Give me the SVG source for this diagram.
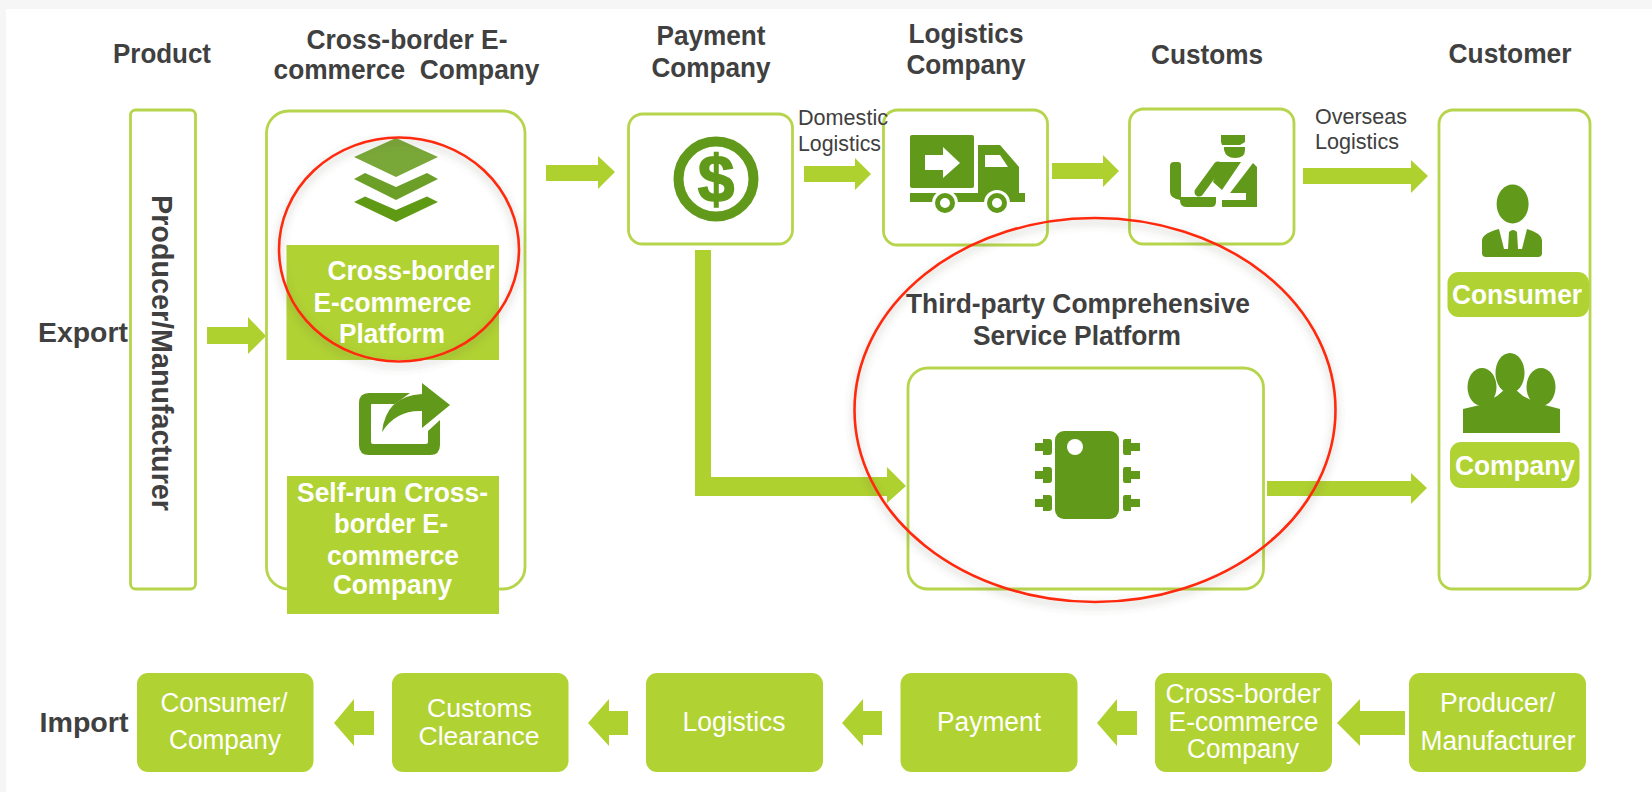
<svg xmlns="http://www.w3.org/2000/svg" width="1652" height="792" viewBox="0 0 1652 792">
<style>
text{font-family:"Liberation Sans",Arial,sans-serif}
.h{font-size:27.500px;font-weight:700;fill:#404040;text-anchor:middle}
.l{font-size:21.500px;fill:#404040}
.w{font-size:27.500px;font-weight:700;fill:#fff;text-anchor:middle}
.b{font-size:27px;fill:#fff;text-anchor:middle}
.box{fill:#fff;stroke:#b6d54c;stroke-width:2.800}
.fill{fill:#b1d233}
.arr{fill:#afd130}
.ic{fill:#61991a}
.ring{fill:none;stroke:#ff2a0e;stroke-width:2.600;filter:url(#sh)}
</style>
<defs>
<filter id="sh" x="-10%" y="-10%" width="120%" height="125%"><feDropShadow dx="0" dy="4" stdDeviation="4" flood-color="#554" flood-opacity=".4"/></filter>
</defs>
<rect width="1652" height="792" fill="#f6f6f6"/>
<rect x="6" y="9" width="1646" height="783" fill="#fff"/>

<g id="connectors">
<polygon class="arr" points="207,327 248,327 248,317 266,336 248,354 248,344 207,344"/>
<polygon class="arr" points="546,165 598,165 598,156 615,172 598,189 598,181 546,181"/>
<polygon class="arr" points="804,166 855,166 855,158 871,174 855,190 855,182 804,182"/>
<polygon class="arr" points="1052,163 1103,163 1103,155 1119,171 1103,187 1103,179 1052,179"/>
<polygon class="arr" points="1303,168 1411,168 1411,160 1428,176 1411,193 1411,184 1303,184"/>
<polygon class="arr" points="695,250 711,250 711,477 887,477 887,467 906,486 887,503 887,496 695,496"/>
<polygon class="arr" points="1267,481 1411,481 1411,473 1427,488 1411,504 1411,496 1267,496"/>
<polygon class="arr" points="334,723 354,699 354,711 374,711 374,735 354,735 354,746"/>
<polygon class="arr" points="588,723 609,699 609,711 628,711 628,735 609,735 609,746"/>
<polygon class="arr" points="842,723 863,699 863,711 882,711 882,735 863,735 863,746"/>
<polygon class="arr" points="1097,723 1117,699 1117,711 1137,711 1137,735 1117,735 1117,746"/>
<polygon class="arr" points="1337,723 1360,699 1360,711 1405,711 1405,735 1360,735 1360,746"/>
</g>

<g id="side-labels">
<text class="h" x="83" y="342" textLength="90" lengthAdjust="spacingAndGlyphs">Export</text>
<text class="h" x="84" y="732" textLength="89" lengthAdjust="spacingAndGlyphs">Import</text>
</g>

<g id="product">
<text class="h" x="162" y="63" textLength="98" lengthAdjust="spacingAndGlyphs">Product</text>
<rect class="box" x="130.500" y="110" width="65" height="479" rx="5"/>
<text class="h" style="font-size:29px" transform="translate(152,353) rotate(90)" x="0" y="0" textLength="316" lengthAdjust="spacingAndGlyphs">Producer/Manufacturer</text>
</g>

<g id="ecommerce-company">
<text class="h" x="407" y="49" textLength="201" lengthAdjust="spacingAndGlyphs">Cross-border E-</text>
<text class="h" x="406.500" y="79" textLength="266" lengthAdjust="spacingAndGlyphs" xml:space="preserve">commerce  Company</text>
<rect class="box" x="266.500" y="111" width="258.500" height="478" rx="22"/>
<polygon points="396,138 438,157 396,177 354,157" fill="#7aa838"/>
<polygon points="354,179 365,173 396,187 427,173 438,179 396,200" fill="#6c9f28"/>
<polygon points="354,202 365,196.500 396,210 427,196.500 438,202 396,222" fill="#5f9a14"/>
<rect class="fill" x="286.500" y="245" width="212.500" height="115"/>
<text class="w" x="411" y="280" textLength="167" lengthAdjust="spacingAndGlyphs">Cross-border</text>
<text class="w" x="392.500" y="312" textLength="158" lengthAdjust="spacingAndGlyphs">E-commerce</text>
<text class="w" x="392" y="343" textLength="106" lengthAdjust="spacingAndGlyphs">Platform</text>
<path class="ic" d="M369,393H410L395,404H372Q371,404 371,405V442Q371,444 373,444H426Q428,444 428,442V431L440,420V445Q440,455 430,455H369Q359,455 359,445V403Q359,393 369,393Z"/>
<path class="ic" d="M382,432Q386,396 422,394V383L450,405L422,428V411Q396,410 382,432Z"/>
<rect class="fill" x="287" y="476" width="212" height="138"/>
<text class="w" x="392.500" y="502" textLength="191" lengthAdjust="spacingAndGlyphs">Self-run Cross-</text>
<text class="w" x="391" y="533" textLength="114" lengthAdjust="spacingAndGlyphs">border E-</text>
<text class="w" x="393" y="565" textLength="132" lengthAdjust="spacingAndGlyphs">commerce</text>
<text class="w" x="392.500" y="594" textLength="119" lengthAdjust="spacingAndGlyphs">Company</text>
</g>

<g id="payment-company">
<text class="h" x="711" y="45" textLength="109" lengthAdjust="spacingAndGlyphs">Payment</text>
<text class="h" x="711" y="77" textLength="119" lengthAdjust="spacingAndGlyphs">Company</text>
<rect class="box" x="628.500" y="114" width="164" height="130" rx="14"/>
<circle cx="716" cy="179" r="37.500" fill="none" stroke="#61991a" stroke-width="10"/>
<text x="716" y="202" font-size="66" font-weight="700" fill="#61991a" stroke="#61991a" stroke-width="1.500" text-anchor="middle">$</text>
</g>

<g id="logistics-company">
<text class="h" x="966" y="43" textLength="115" lengthAdjust="spacingAndGlyphs">Logistics</text>
<text class="h" x="966" y="74" textLength="119" lengthAdjust="spacingAndGlyphs">Company</text>
<rect class="box" x="883.500" y="110" width="164" height="135" rx="14"/>
<rect class="ic" x="910" y="135" width="64" height="53" rx="2"/>
<polygon points="925,155 943,155 943,147 960,163 943,178 943,170 925,170" fill="#fff"/>
<path class="ic" d="M978,145H1000L1019,167V193H978Z"/>
<polygon points="985,155 1000,155 1008,167 985,167" fill="#fff"/>
<rect class="ic" x="910" y="193" width="115" height="9"/>
<circle cx="945" cy="203" r="13" fill="#fff"/><circle cx="945" cy="203" r="7.500" fill="#fff" stroke="#61991a" stroke-width="5"/>
<circle cx="997" cy="203" r="13" fill="#fff"/><circle cx="997" cy="203" r="7.500" fill="#fff" stroke="#61991a" stroke-width="5"/>
</g>

<text class="l" x="798" y="125" textLength="90" lengthAdjust="spacingAndGlyphs">Domestic</text>
<text class="l" x="798" y="151" textLength="83" lengthAdjust="spacingAndGlyphs">Logistics</text>

<g id="customs">
<text class="h" x="1207" y="64" textLength="112" lengthAdjust="spacingAndGlyphs">Customs</text>
<rect class="box" x="1129.500" y="109" width="164.500" height="135" rx="14"/>
<polygon class="ic" points="1221,135 1245,135 1245,142 1240,145 1222,145 1221,142"/>
<path class="ic" d="M1224,147H1245V150Q1245,158 1235,158Q1226,158 1224,150Z"/>
<path class="ic" d="M1174,162H1178Q1181,162 1181,165V197H1216V202Q1216,207 1211,207H1186Q1180,207 1180,200Q1170,198 1170,192V166Q1170,162 1174,162Z"/>
<path d="M1199,192L1218,166" fill="none" stroke="#61991a" stroke-width="9" stroke-linecap="round"/>
<polygon class="ic" points="1220,162 1241,162 1222,190 1213,182"/>
<polygon class="ic" points="1253,163 1257,167 1257,207 1222,207 1222,200 1246,200 1246,193 1230,193"/>
</g>

<text class="l" x="1315" y="124" textLength="92" lengthAdjust="spacingAndGlyphs">Overseas</text>
<text class="l" x="1315" y="149" textLength="84" lengthAdjust="spacingAndGlyphs">Logistics</text>

<g id="customer">
<text class="h" x="1510" y="63" textLength="123" lengthAdjust="spacingAndGlyphs">Customer</text>
<rect class="box" x="1439" y="110" width="151" height="479" rx="14"/>
<ellipse class="ic" cx="1512.600" cy="204" rx="16" ry="19.500"/>
<path class="ic" d="M1482,240Q1483,233 1499,229L1504,249H1508L1509,232Q1513,228 1517,232L1518,249H1522L1527,229Q1541,233 1542,240V253Q1542,257 1538,257H1486Q1482,257 1482,253Z"/>
<rect class="fill" x="1447.500" y="272" width="141.500" height="45" rx="11"/>
<text class="w" x="1517" y="304" textLength="130" lengthAdjust="spacingAndGlyphs">Consumer</text>
<ellipse class="ic" cx="1510" cy="373" rx="14.500" ry="20"/>
<ellipse class="ic" cx="1482" cy="387" rx="14.500" ry="19"/>
<ellipse class="ic" cx="1541" cy="387" rx="14.500" ry="19"/>
<path class="ic" d="M1463,409L1480,405L1497,396L1504,390H1516L1523,396L1537,403L1560,409V433H1463Z"/>
<rect class="fill" x="1450" y="442" width="129.500" height="46" rx="11"/>
<text class="w" x="1515" y="475" textLength="120" lengthAdjust="spacingAndGlyphs">Company</text>
</g>

<g id="third-party-platform">
<text class="h" x="1078" y="313" textLength="344" lengthAdjust="spacingAndGlyphs">Third-party Comprehensive</text>
<text class="h" x="1077" y="345" textLength="208" lengthAdjust="spacingAndGlyphs">Service Platform</text>
<rect class="box" x="908" y="368" width="355.500" height="221" rx="20"/>
<rect class="ic" x="1055" y="431" width="64" height="88" rx="9"/>
<circle cx="1075" cy="447" r="8" fill="#fff"/>
<g class="ic">
<path d="M1043,439H1049Q1052,439 1052,442V452Q1052,455 1049,455H1043V451H1035V443H1043Z"/>
<path d="M1043,467H1049Q1052,467 1052,470V480Q1052,483 1049,483H1043V479H1035V471H1043Z"/>
<path d="M1043,495H1049Q1052,495 1052,498V508Q1052,511 1049,511H1043V507H1035V499H1043Z"/>
<path d="M1131,439H1125Q1123,439 1123,442V452Q1123,455 1125,455H1131V451H1140V443H1131Z"/>
<path d="M1131,467H1125Q1123,467 1123,470V480Q1123,483 1125,483H1131V479H1140V471H1131Z"/>
<path d="M1131,495H1125Q1123,495 1123,498V508Q1123,511 1125,511H1131V507H1140V499H1131Z"/>
</g>
</g>

<g id="import-consumer"><rect class="fill" x="137" y="673" width="176.500" height="99" rx="11"/>
<text class="b" x="224" y="712" textLength="127" lengthAdjust="spacingAndGlyphs">Consumer/</text>
<text class="b" x="225" y="749" textLength="112" lengthAdjust="spacingAndGlyphs">Company</text></g>
<g id="import-customs"><rect class="fill" x="392" y="673" width="176.500" height="99" rx="11"/>
<text class="b" style="font-size:25px" x="479.500" y="717" textLength="105" lengthAdjust="spacingAndGlyphs">Customs</text>
<text class="b" style="font-size:25px" x="479" y="745" textLength="121" lengthAdjust="spacingAndGlyphs">Clearance</text></g>
<g id="import-logistics"><rect class="fill" x="646" y="673" width="177" height="99" rx="11"/>
<text class="b" x="734" y="731" textLength="103" lengthAdjust="spacingAndGlyphs">Logistics</text></g>
<g id="import-payment"><rect class="fill" x="900.500" y="673" width="177" height="99" rx="11"/>
<text class="b" x="989" y="731" textLength="104" lengthAdjust="spacingAndGlyphs">Payment</text></g>
<g id="import-ecommerce"><rect class="fill" x="1155" y="673" width="177" height="99" rx="11"/>
<text class="b" x="1243" y="703" textLength="155" lengthAdjust="spacingAndGlyphs">Cross-border</text>
<text class="b" x="1243.500" y="731" textLength="150" lengthAdjust="spacingAndGlyphs">E-commerce</text>
<text class="b" x="1243" y="758" textLength="112" lengthAdjust="spacingAndGlyphs">Company</text></g>
<g id="import-producer"><rect class="fill" x="1409" y="673" width="177" height="99" rx="11"/>
<text class="b" x="1497.500" y="712" textLength="115" lengthAdjust="spacingAndGlyphs">Producer/</text>
<text class="b" x="1498" y="750" textLength="155" lengthAdjust="spacingAndGlyphs">Manufacturer</text></g>

<g id="highlights">
<ellipse class="ring" cx="399" cy="249.500" rx="120" ry="112"/>
<ellipse class="ring" cx="1095" cy="410" rx="240.500" ry="192"/>
</g>
</svg>
